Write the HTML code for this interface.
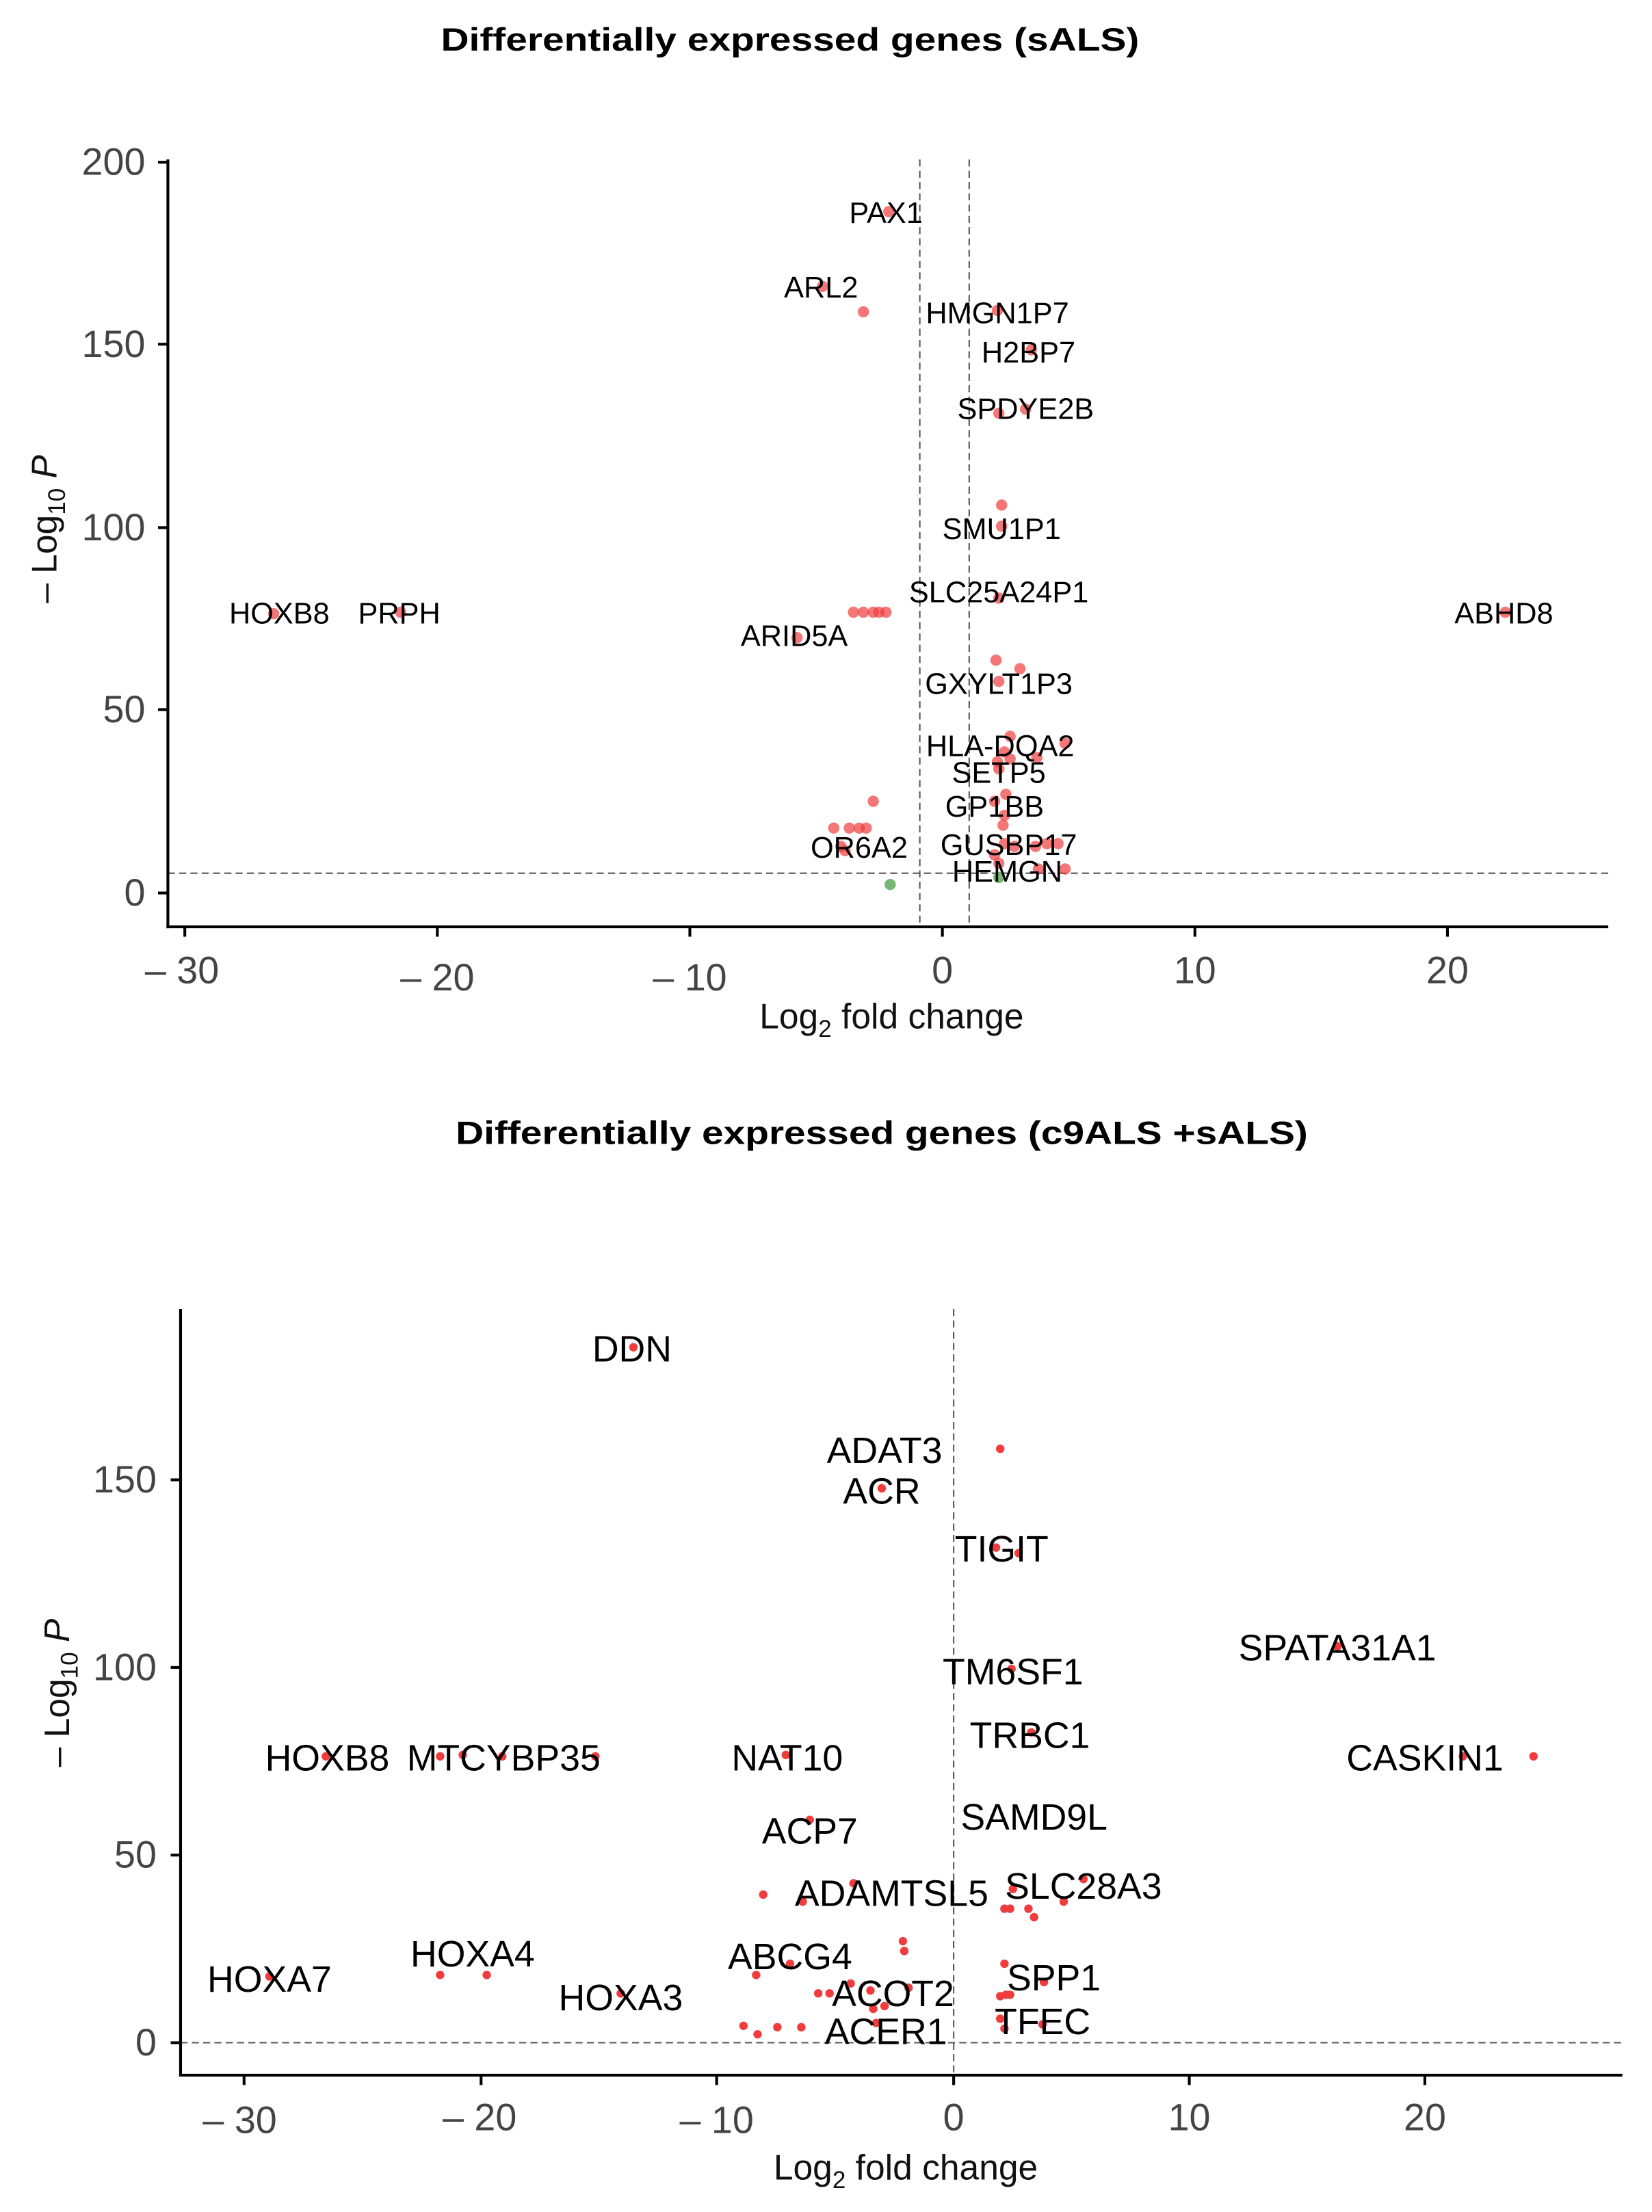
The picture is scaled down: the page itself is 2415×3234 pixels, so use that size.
<!DOCTYPE html>
<html><head><meta charset="utf-8"><style>
html,body{margin:0;padding:0;background:#fff;}
svg{display:block}
text{font-family:"Liberation Sans",Arial,sans-serif;}
.t{font-weight:bold;font-size:23px;fill:#000}
.tk{font-size:27px;fill:#444}
.lab1{font-size:21px;fill:#000;text-anchor:middle}
.lab2{font-size:26px;fill:#000;text-anchor:middle}
.ax{font-size:25px;fill:#111}
.p1{fill:#f03c3c;fill-opacity:0.7}
.p2{fill:#f03c3c}
.g{fill:#3a9a3a;fill-opacity:0.7}
</style></head><body>
<svg width="2415" height="3234" viewBox="0 0 1171 1568" preserveAspectRatio="none" xmlns="http://www.w3.org/2000/svg">
<rect width="1171" height="1568" fill="#fff"/>
<!-- TOP -->
<text class="t" x="560" y="36" text-anchor="middle" textLength="495" lengthAdjust="spacingAndGlyphs">Differentially expressed genes (sALS)</text>
<g stroke="#555" stroke-width="1" stroke-dasharray="5,3" fill="none">
<line x1="652" y1="113" x2="652" y2="657"/>
<line x1="687" y1="113" x2="687" y2="657"/>
<line x1="119" y1="619" x2="1140" y2="619"/>
</g>
<g stroke="#000" stroke-width="2" fill="none">
<line x1="119" y1="113" x2="119" y2="658"/>
<line x1="118" y1="657" x2="1140" y2="657"/>
<line x1="112" y1="115" x2="119" y2="115"/><line x1="112" y1="244" x2="119" y2="244"/><line x1="112" y1="374" x2="119" y2="374"/><line x1="112" y1="503" x2="119" y2="503"/><line x1="112" y1="633" x2="119" y2="633"/>
<line x1="131" y1="657" x2="131" y2="664"/><line x1="310" y1="657" x2="310" y2="664"/><line x1="489" y1="657" x2="489" y2="664"/><line x1="668" y1="657" x2="668" y2="664"/><line x1="847" y1="657" x2="847" y2="664"/><line x1="1026" y1="657" x2="1026" y2="664"/>
</g>
<g class="tk" text-anchor="end">
<text x="103" y="124">200</text><text x="103" y="253">150</text><text x="103" y="383">100</text><text x="103" y="512">50</text><text x="103" y="642">0</text>
</g>
<g class="tk" text-anchor="middle">
<text x="129" y="697">– 30</text><text x="310" y="702">– 20</text><text x="489" y="702">– 10</text><text x="668" y="697">0</text><text x="847" y="697">10</text><text x="1026" y="697">20</text>
</g>
<text class="ax" x="632" y="729" text-anchor="middle">Log<tspan font-size="17" dy="6">2</tspan><tspan dy="-6"> fold change</tspan></text>
<text class="ax" transform="translate(40,375) rotate(-90)" text-anchor="middle">– Log<tspan font-size="17" dy="6">10</tspan><tspan dy="-6" font-style="italic"> P</tspan></text>
<g class="p1">
<circle cx="630" cy="150" r="4"/><circle cx="583" cy="203" r="4"/><circle cx="612" cy="221" r="4"/><circle cx="707" cy="220" r="4"/><circle cx="731" cy="248" r="4"/><circle cx="708" cy="293" r="4"/><circle cx="727" cy="290" r="4"/><circle cx="710" cy="358" r="4"/><circle cx="710" cy="373" r="4"/><circle cx="708" cy="424" r="4"/><circle cx="194" cy="435" r="4"/><circle cx="284" cy="434" r="4"/><circle cx="1067" cy="434" r="4"/><circle cx="605" cy="434" r="4"/><circle cx="612" cy="434" r="4"/><circle cx="619" cy="434" r="4"/><circle cx="623" cy="434" r="4"/><circle cx="628" cy="434" r="4"/><circle cx="565" cy="452" r="4"/><circle cx="706" cy="468" r="4"/><circle cx="723" cy="474" r="4"/><circle cx="708" cy="483" r="4"/><circle cx="716" cy="522" r="4"/><circle cx="755" cy="527" r="4"/><circle cx="735" cy="537" r="4"/><circle cx="712" cy="533" r="4"/><circle cx="707" cy="540" r="4"/><circle cx="716" cy="538" r="4"/><circle cx="708" cy="545" r="4"/><circle cx="713" cy="563" r="4"/><circle cx="712" cy="578" r="4"/><circle cx="705" cy="568" r="4"/><circle cx="619" cy="568" r="4"/><circle cx="591" cy="587" r="4"/><circle cx="602" cy="587" r="4"/><circle cx="609" cy="587" r="4"/><circle cx="614" cy="587" r="4"/><circle cx="711" cy="585" r="4"/><circle cx="596" cy="600" r="4"/><circle cx="599" cy="603" r="4"/><circle cx="712" cy="598" r="4"/><circle cx="719" cy="600" r="4"/><circle cx="734" cy="600" r="4"/><circle cx="742" cy="598" r="4"/><circle cx="750" cy="598" r="4"/><circle cx="705" cy="606" r="4"/><circle cx="708" cy="612" r="4"/><circle cx="736" cy="616" r="4"/><circle cx="755" cy="616" r="4"/>
</g>
<g class="g"><circle cx="708" cy="622" r="4"/><circle cx="631" cy="627" r="4"/></g>
<g class="lab1">
<text x="628" y="158">PAX1</text><text x="582" y="211">ARL2</text><text x="707" y="229">HMGN1P7</text><text x="729" y="257">H2BP7</text><text x="727" y="297">SPDYE2B</text><text x="710" y="382">SMU1P1</text><text x="708" y="427">SLC25A24P1</text><text x="198" y="442">HOXB8</text><text x="283" y="442">PRPH</text><text x="1066" y="442">ABHD8</text><text x="563" y="458">ARID5A</text><text x="708" y="492">GXYLT1P3</text><text x="709" y="536">HLA-DQA2</text><text x="708" y="555">SETP5</text><text x="705" y="579">GP1BB</text><text x="609" y="608">OR6A2</text><text x="715" y="606">GUSBP17</text><text x="714" y="625">HEMGN</text>
</g>
<!-- BOTTOM -->
<text class="t" x="625" y="811" text-anchor="middle" textLength="604" lengthAdjust="spacingAndGlyphs">Differentially expressed genes (c9ALS +sALS)</text>
<g stroke="#555" stroke-width="1" stroke-dasharray="5,3" fill="none">
<line x1="676" y1="928" x2="676" y2="1471"/>
<line x1="128" y1="1448" x2="1150" y2="1448"/>
</g>
<g stroke="#000" stroke-width="2" fill="none">
<line x1="128" y1="928" x2="128" y2="1472"/>
<line x1="127" y1="1471" x2="1150" y2="1471"/>
<line x1="121" y1="1049" x2="128" y2="1049"/><line x1="121" y1="1182" x2="128" y2="1182"/><line x1="121" y1="1315" x2="128" y2="1315"/><line x1="121" y1="1448" x2="128" y2="1448"/>
<line x1="173" y1="1471" x2="173" y2="1478"/><line x1="341" y1="1471" x2="341" y2="1478"/><line x1="508" y1="1471" x2="508" y2="1478"/><line x1="676" y1="1471" x2="676" y2="1478"/><line x1="843" y1="1471" x2="843" y2="1478"/><line x1="1010" y1="1471" x2="1010" y2="1478"/>
</g>
<g class="tk" text-anchor="end">
<text x="111" y="1058">150</text><text x="111" y="1191">100</text><text x="111" y="1324">50</text><text x="111" y="1457">0</text>
</g>
<g class="tk" text-anchor="middle">
<text x="170" y="1512">– 30</text><text x="340" y="1510">– 20</text><text x="508" y="1512">– 10</text><text x="676" y="1510">0</text><text x="843" y="1510">10</text><text x="1010" y="1510">20</text>
</g>
<text class="ax" x="642" y="1545" text-anchor="middle">Log<tspan font-size="17" dy="6">2</tspan><tspan dy="-6"> fold change</tspan></text>
<text class="ax" transform="translate(49,1200) rotate(-90)" text-anchor="middle">– Log<tspan font-size="17" dy="6">10</tspan><tspan dy="-6" font-style="italic"> P</tspan></text>
<g class="p2">
<circle cx="449" cy="955" r="3"/><circle cx="709" cy="1027" r="3"/><circle cx="625" cy="1055" r="3"/><circle cx="706" cy="1097" r="3"/><circle cx="722" cy="1101" r="3"/><circle cx="948" cy="1167" r="3"/><circle cx="717" cy="1183" r="3"/><circle cx="731" cy="1228" r="3"/><circle cx="231" cy="1245" r="3"/><circle cx="312" cy="1245" r="3"/><circle cx="328" cy="1244" r="3"/><circle cx="356" cy="1245" r="3"/><circle cx="422" cy="1245" r="3"/><circle cx="557" cy="1244" r="3"/><circle cx="1037" cy="1245" r="3"/><circle cx="1087" cy="1245" r="3"/><circle cx="574" cy="1290" r="3"/><circle cx="541" cy="1343" r="3"/><circle cx="569" cy="1348" r="3"/><circle cx="605" cy="1335" r="3"/><circle cx="718" cy="1339" r="3"/><circle cx="712" cy="1353" r="3"/><circle cx="716" cy="1353" r="3"/><circle cx="729" cy="1353" r="3"/><circle cx="733" cy="1359" r="3"/><circle cx="754" cy="1348" r="3"/><circle cx="768" cy="1332" r="3"/><circle cx="312" cy="1400" r="3"/><circle cx="345" cy="1400" r="3"/><circle cx="191" cy="1401" r="3"/><circle cx="440" cy="1413" r="3"/><circle cx="536" cy="1400" r="3"/><circle cx="560" cy="1392" r="3"/><circle cx="640" cy="1376" r="3"/><circle cx="641" cy="1383" r="3"/><circle cx="580" cy="1413" r="3"/><circle cx="588" cy="1413" r="3"/><circle cx="603" cy="1406" r="3"/><circle cx="617" cy="1411" r="3"/><circle cx="644" cy="1409" r="3"/><circle cx="627" cy="1422" r="3"/><circle cx="712" cy="1392" r="3"/><circle cx="740" cy="1405" r="3"/><circle cx="709" cy="1415" r="3"/><circle cx="713" cy="1414" r="3"/><circle cx="716" cy="1414" r="3"/><circle cx="527" cy="1436" r="3"/><circle cx="537" cy="1442" r="3"/><circle cx="551" cy="1437" r="3"/><circle cx="568" cy="1437" r="3"/><circle cx="619" cy="1424" r="3"/><circle cx="621" cy="1434" r="3"/><circle cx="709" cy="1431" r="3"/><circle cx="712" cy="1438" r="3"/><circle cx="739" cy="1435" r="3"/>
</g>
<g class="lab2">
<text x="448" y="965">DDN</text><text x="627" y="1037">ADAT3</text><text x="625" y="1066">ACR</text><text x="710" y="1107">TIGIT</text><text x="948" y="1177">SPATA31A1</text><text x="718" y="1194">TM6SF1</text><text x="730" y="1239">TRBC1</text><text x="232" y="1255">HOXB8</text><text x="357" y="1255">MTCYBP35</text><text x="558" y="1255">NAT10</text><text x="1010" y="1255">CASKIN1</text><text x="733" y="1297">SAMD9L</text><text x="574" y="1307">ACP7</text><text x="632" y="1351">ADAMTSL5</text><text x="768" y="1346">SLC28A3</text><text x="335" y="1394">HOXA4</text><text x="191" y="1412">HOXA7</text><text x="440" y="1425">HOXA3</text><text x="560" y="1396">ABCG4</text><text x="633" y="1422">ACOT2</text><text x="747" y="1411">SPP1</text><text x="628" y="1449">ACER1</text><text x="739" y="1442">TFEC</text>
</g>
</svg>
</body></html>
